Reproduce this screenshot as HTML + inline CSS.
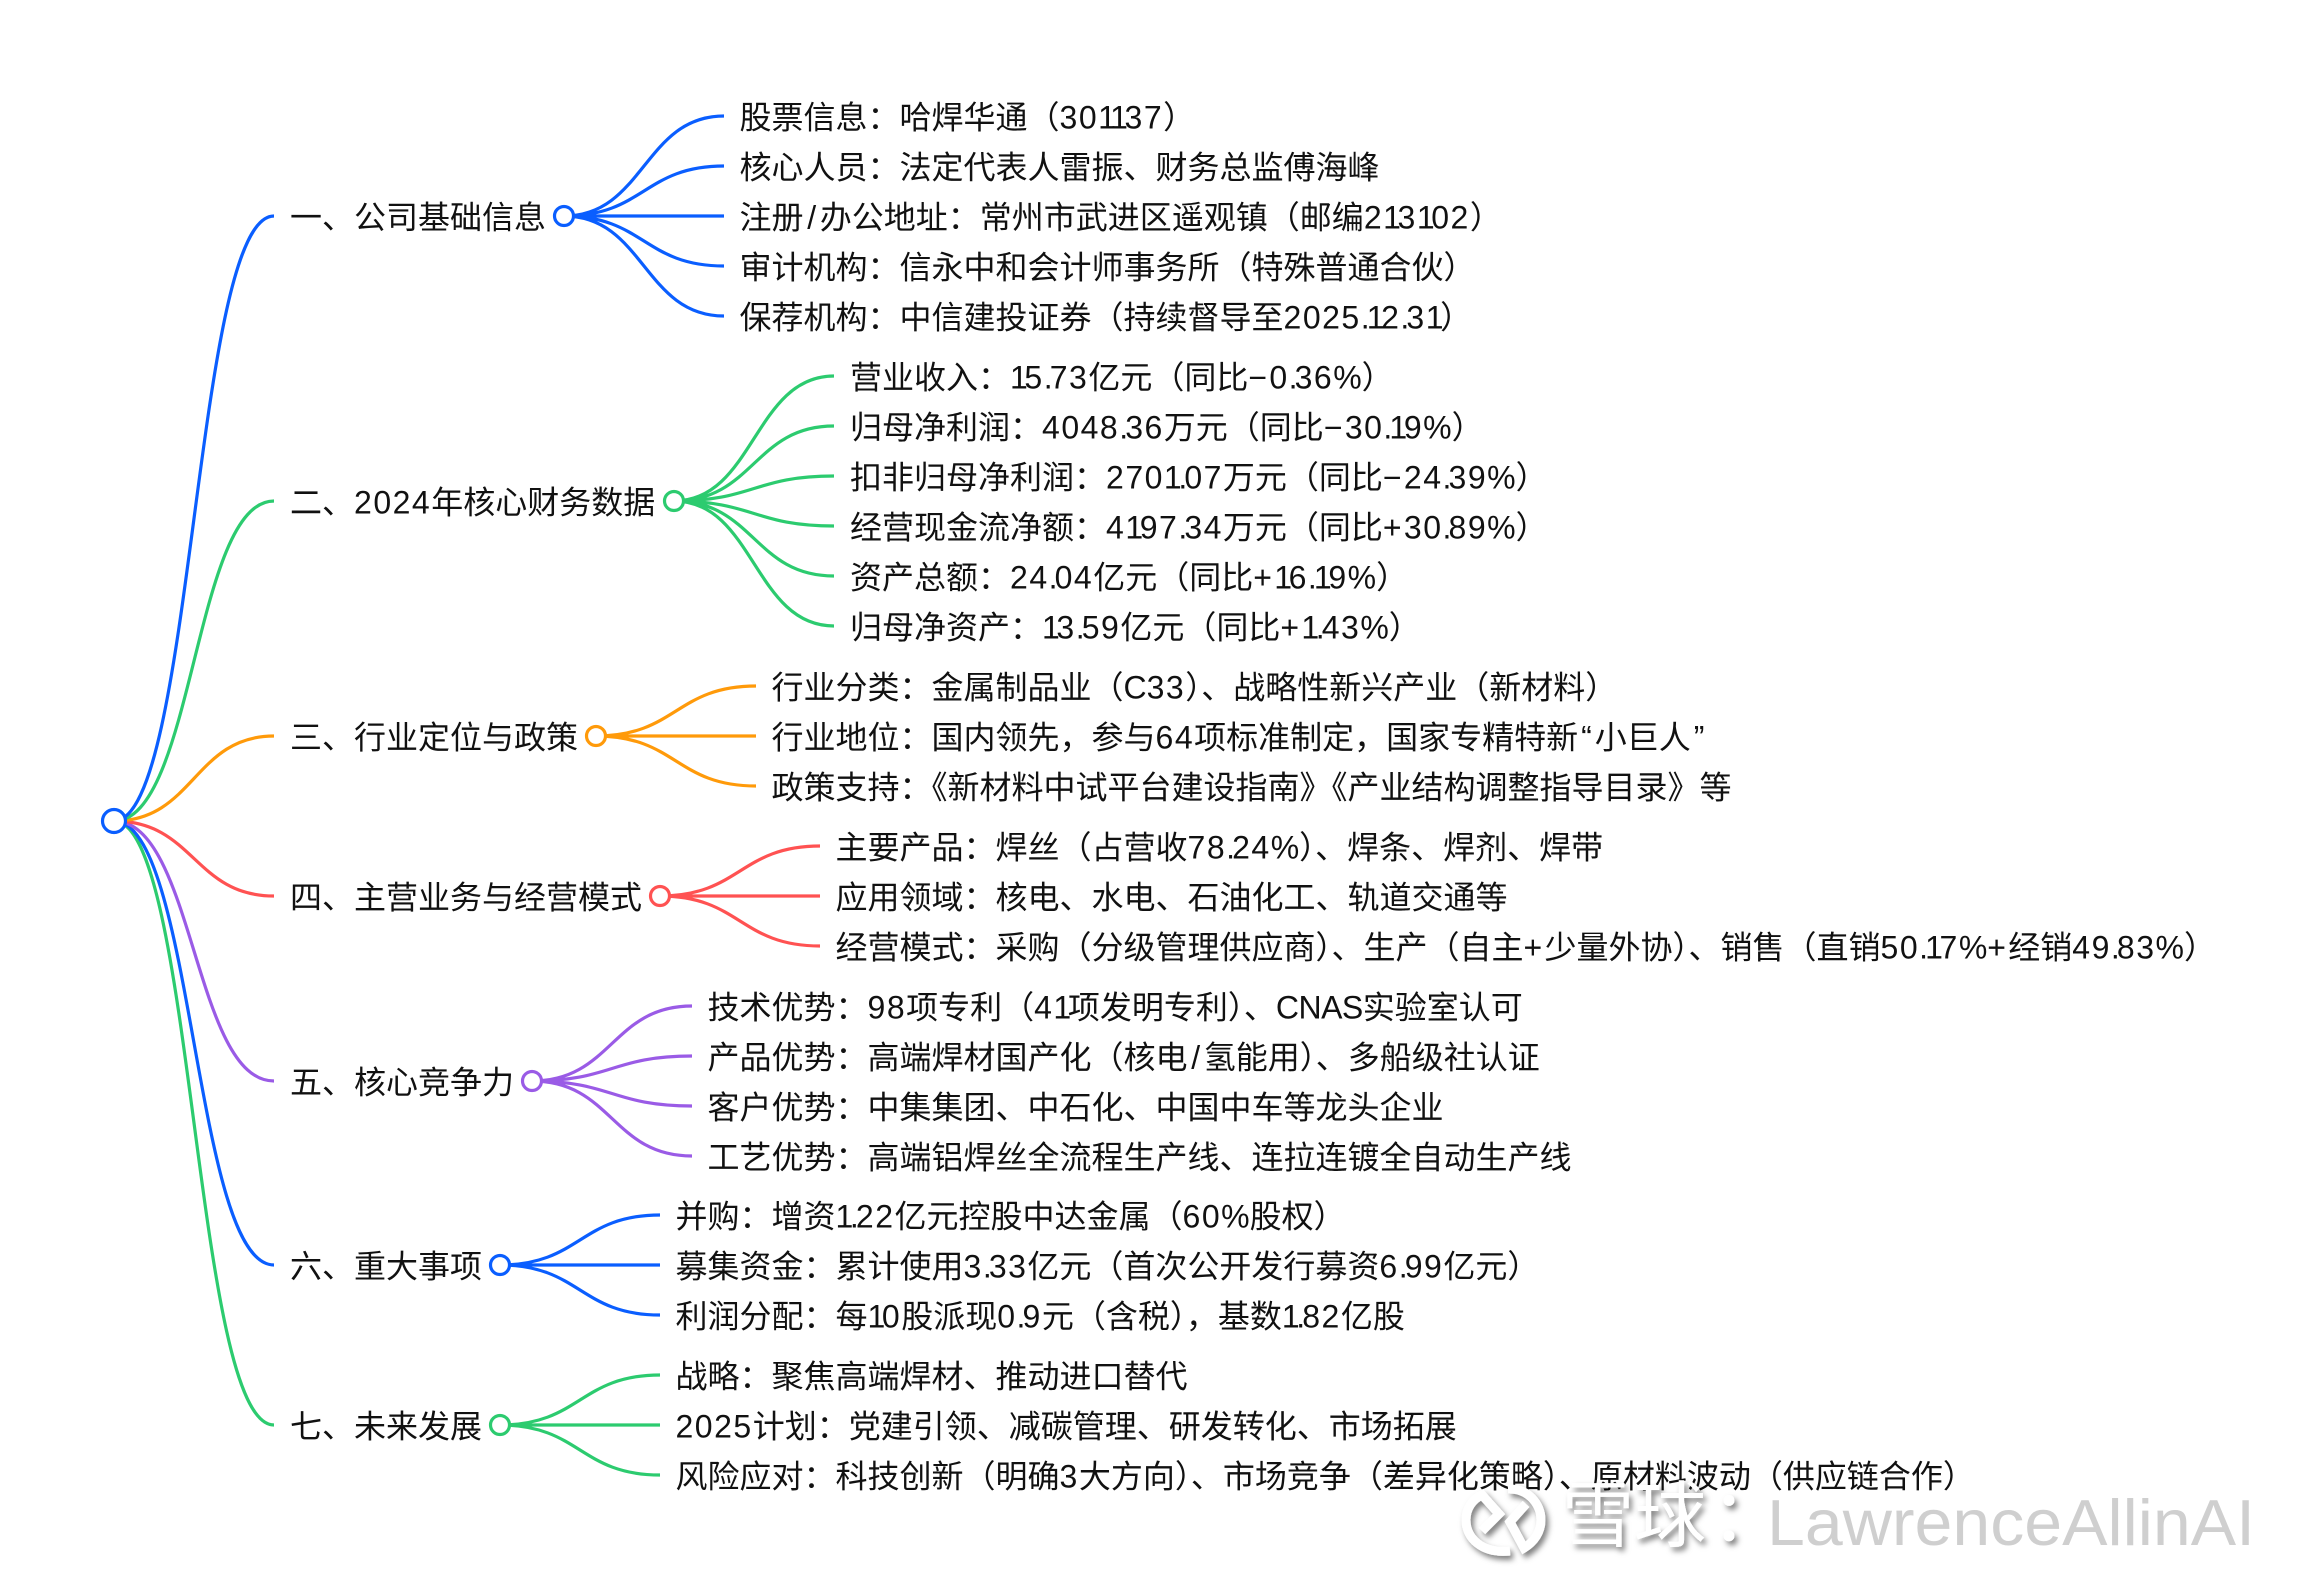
<!DOCTYPE html>
<html lang="zh">
<head>
<meta charset="utf-8">
<style>
html,body{margin:0;padding:0;background:#fff}
svg{display:block}
text{font-family:"Liberation Sans","Noto Sans CJK SC",sans-serif;font-size:32px;fill:#111}
.n{letter-spacing:1.5px}
.w{letter-spacing:-3.4px}
.d{letter-spacing:-2.9px}
.m{letter-spacing:2.3px}
.c{letter-spacing:-.5px}
.z{letter-spacing:0}
.s{letter-spacing:3.7px}
.q{letter-spacing:3px}
path{fill:none;stroke-width:3.2}
circle{fill:#fff;stroke-width:3.2}
.b{stroke:#0a5eff}.g{stroke:#2ccb6f}.o{stroke:#ff9a0a}.r{stroke:#ff5252}.p{stroke:#9a5be6}
</style>
</head>
<body>
<svg width="2318" height="1592" viewBox="0 0 2318 1592" xmlns="http://www.w3.org/2000/svg">
<defs>
<filter id="s" x="-20%" y="-20%" width="150%" height="150%"><feDropShadow dx="3" dy="4" stdDeviation="3" flood-color="#000" flood-opacity=".5"/></filter>
</defs>
<!-- root edges -->
<path class="g" d="M114 821C194 821 194 1425 274 1425"/>
<path class="b" d="M114 821C194 821 194 1265 274 1265"/>
<path class="p" d="M114 821C194 821 194 1081 274 1081"/>
<path class="r" d="M114 821C194 821 194 896 274 896"/>
<path class="o" d="M114 821C194 821 194 736 274 736"/>
<path class="g" d="M114 821C194 821 194 501 274 501"/>
<path class="b" d="M114 821C194 821 194 216 274 216"/>
<!-- 一 -->
<path class="b" d="M564 216C644 216 644 116 724 116M564 216C644 216 644 166 724 166M564 216H724M564 216C644 216 644 266 724 266M564 216C644 216 644 316 724 316"/>
<!-- 二 -->
<path class="g" d="M674 501C754 501 754 376 834 376M674 501C754 501 754 426 834 426M674 501C754 501 754 476 834 476M674 501C754 501 754 526 834 526M674 501C754 501 754 576 834 576M674 501C754 501 754 626 834 626"/>
<!-- 三 -->
<path class="o" d="M596 736C676 736 676 686 756 686M596 736H756M596 736C676 736 676 786 756 786"/>
<!-- 四 -->
<path class="r" d="M660 896C740 896 740 846 820 846M660 896H820M660 896C740 896 740 946 820 946"/>
<!-- 五 -->
<path class="p" d="M532 1081C612 1081 612 1006 692 1006M532 1081C612 1081 612 1056 692 1056M532 1081C612 1081 612 1106 692 1106M532 1081C612 1081 612 1156 692 1156"/>
<!-- 六 -->
<path class="b" d="M500 1265C580 1265 580 1215 660 1215M500 1265H660M500 1265C580 1265 580 1315 660 1315"/>
<!-- 七 -->
<path class="g" d="M500 1425C580 1425 580 1375 660 1375M500 1425H660M500 1425C580 1425 580 1475 660 1475"/>
<!-- nodes -->
<circle class="b" cx="114" cy="821" r="11.5"/>
<circle class="b" cx="564" cy="216" r="9.5"/>
<circle class="g" cx="674" cy="501" r="9.5"/>
<circle class="o" cx="596" cy="736" r="9.5"/>
<circle class="r" cx="660" cy="896" r="9.5"/>
<circle class="p" cx="532" cy="1081" r="9.5"/>
<circle class="b" cx="500" cy="1265" r="9.5"/>
<circle class="g" cx="500" cy="1425" r="9.5"/>
<g transform="translate(-1.5 1.5)">
<!-- level 1 -->
<text x="291.5" y="227">一、公司基础信息</text>
<text x="291.5" y="512">二、<tspan class="n">2024</tspan>年核心财务数据</text>
<text x="291.5" y="747">三、行业定位与政策</text>
<text x="291.5" y="907">四、主营业务与经营模式</text>
<text x="291.5" y="1092">五、核心竞争力</text>
<text x="291.5" y="1276">六、重大事项</text>
<text x="291.5" y="1436">七、未来发展</text>
<!-- 一 children -->
<text x="741" y="127">股票信息：哈焊华通（<tspan class="n">30<tspan class="w">11</tspan>37</tspan>）</text>
<text x="741" y="177">核心人员：法定代表人雷振、财务总监傅海峰</text>
<text x="741" y="227">注册<tspan class="s" dx="3.7">/</tspan>办公地址：常州市武进区遥观镇（邮编<tspan class="n">2<tspan class="w">1</tspan>3<tspan class="w">1</tspan>02</tspan>）</text>
<text x="741" y="277">审计机构：信永中和会计师事务所（特殊普通合伙）</text>
<text x="741" y="327">保荐机构：中信建投证券（持续督导至<tspan class="n">2025<tspan class="d">.</tspan><tspan class="w">1</tspan>2<tspan class="d">.</tspan>3<tspan class="w">1</tspan></tspan>）</text>
<!-- 二 children -->
<text x="851.5" y="387">营业收入：<tspan class="n"><tspan class="w">1</tspan>5<tspan class="d">.</tspan>73</tspan>亿元（同比<tspan class="m">−</tspan><tspan class="n">0<tspan class="d">.</tspan>36<tspan class="z">%</tspan></tspan>）</text>
<text x="851.5" y="437">归母净利润：<tspan class="n">4048<tspan class="d">.</tspan>36</tspan>万元（同比<tspan class="m">−</tspan><tspan class="n">30<tspan class="d">.</tspan><tspan class="w">1</tspan>9<tspan class="z">%</tspan></tspan>）</text>
<text x="851.5" y="487">扣非归母净利润：<tspan class="n">270<tspan class="w">1</tspan><tspan class="d">.</tspan>07</tspan>万元（同比<tspan class="m">−</tspan><tspan class="n">24<tspan class="d">.</tspan>39<tspan class="z">%</tspan></tspan>）</text>
<text x="851.5" y="537">经营现金流净额：<tspan class="n">4<tspan class="w">1</tspan>97<tspan class="d">.</tspan>34</tspan>万元（同比<tspan class="m">+</tspan><tspan class="n">30<tspan class="d">.</tspan>89<tspan class="z">%</tspan></tspan>）</text>
<text x="851.5" y="587">资产总额：<tspan class="n">24<tspan class="d">.</tspan>04</tspan>亿元（同比<tspan class="m">+</tspan><tspan class="n"><tspan class="w">1</tspan>6<tspan class="d">.</tspan><tspan class="w">1</tspan>9<tspan class="z">%</tspan></tspan>）</text>
<text x="851.5" y="637">归母净资产：<tspan class="n"><tspan class="w">1</tspan>3<tspan class="d">.</tspan>59</tspan>亿元（同比<tspan class="m">+</tspan><tspan class="n"><tspan class="w">1</tspan><tspan class="d">.</tspan>43<tspan class="z">%</tspan></tspan>）</text>
<!-- 三 children -->
<text x="773" y="697">行业分类：金属制品业（C<tspan class="n">33</tspan>）、战略性新兴产业（新材料）</text>
<text x="773" y="747">行业地位：国内领先，参与<tspan class="n">64</tspan>项标准制定，国家专精特新<tspan class="q" dx="3">“</tspan>小巨人<tspan class="q" dx="3">”</tspan></text>
<text x="773" y="797">政策支持：《新材料中试平台建设指南》《产业结构调整指导目录》等</text>
<!-- 四 children -->
<text x="837" y="857">主要产品：焊丝（占营收<tspan class="n">78<tspan class="d">.</tspan>24<tspan class="z">%</tspan></tspan>）、焊条、焊剂、焊带</text>
<text x="837" y="907">应用领域：核电、水电、石油化工、轨道交通等</text>
<text x="837" y="957">经营模式：采购（分级管理供应商）、生产（自主<tspan class="m">+</tspan>少量外协）、销售（直销<tspan class="n">50<tspan class="d">.</tspan><tspan class="w">1</tspan>7<tspan class="z">%</tspan></tspan><tspan class="m">+</tspan>经销<tspan class="n">49<tspan class="d">.</tspan>83<tspan class="z">%</tspan></tspan>）</text>
<!-- 五 children -->
<text x="709" y="1017">技术优势：<tspan class="n">98</tspan>项专利（<tspan class="n">4<tspan class="w">1</tspan></tspan>项发明专利）、<tspan class="c">CNAS</tspan>实验室认可</text>
<text x="709" y="1067">产品优势：高端焊材国产化（核电<tspan class="s" dx="3.7">/</tspan>氢能用）、多船级社认证</text>
<text x="709" y="1117">客户优势：中集集团、中石化、中国中车等龙头企业</text>
<text x="709" y="1167">工艺优势：高端铝焊丝全流程生产线、连拉连镀全自动生产线</text>
<!-- 六 children -->
<text x="677" y="1226">并购：增资<tspan class="n"><tspan class="w">1</tspan><tspan class="d">.</tspan>22</tspan>亿元控股中达金属（<tspan class="n">60<tspan class="z">%</tspan></tspan>股权）</text>
<text x="677" y="1276">募集资金：累计使用<tspan class="n">3<tspan class="d">.</tspan>33</tspan>亿元（首次公开发行募资<tspan class="n">6<tspan class="d">.</tspan>99</tspan>亿元）</text>
<text x="677" y="1326">利润分配：每<tspan class="n"><tspan class="w">1</tspan>0</tspan>股派现<tspan class="n">0<tspan class="d">.</tspan>9</tspan>元（含税），基数<tspan class="n"><tspan class="w">1</tspan><tspan class="d">.</tspan>82</tspan>亿股</text>
<!-- 七 children -->
<text x="677" y="1386">战略：聚焦高端焊材、推动进口替代</text>
<text x="677" y="1436"><tspan class="n">2025</tspan>计划：党建引领、减碳管理、研发转化、市场拓展</text>
<text x="677" y="1486">风险应对：科技创新（明确<tspan class="n">3</tspan>大方向）、市场竞争（差异化策略）、原材料波动（供应链合作）</text>
</g>
<!-- watermark -->
<g filter="url(#s)">
<path d="M1510 1551C1482 1554 1466 1538 1466 1520C1466 1508 1473 1499 1482 1495L1499 1514L1482 1531" style="stroke:#fff;stroke-width:9"/>
<path d="M1508 1489C1528 1488 1541 1504 1541 1520C1541 1532 1534 1542 1524 1548L1510 1522L1526 1504" style="stroke:#fff;stroke-width:9"/>
<text x="1562" y="1541" style="font-size:72px;fill:#fff">雪球</text>
<text x="1711" y="1541" style="font-size:72px;fill:#fff">：</text>
</g>
<text x="1767" y="1545" textLength="488" lengthAdjust="spacingAndGlyphs" style="font-size:65px;fill:#cfcfcf">LawrenceAllinAI</text>
</svg>
</body>
</html>
